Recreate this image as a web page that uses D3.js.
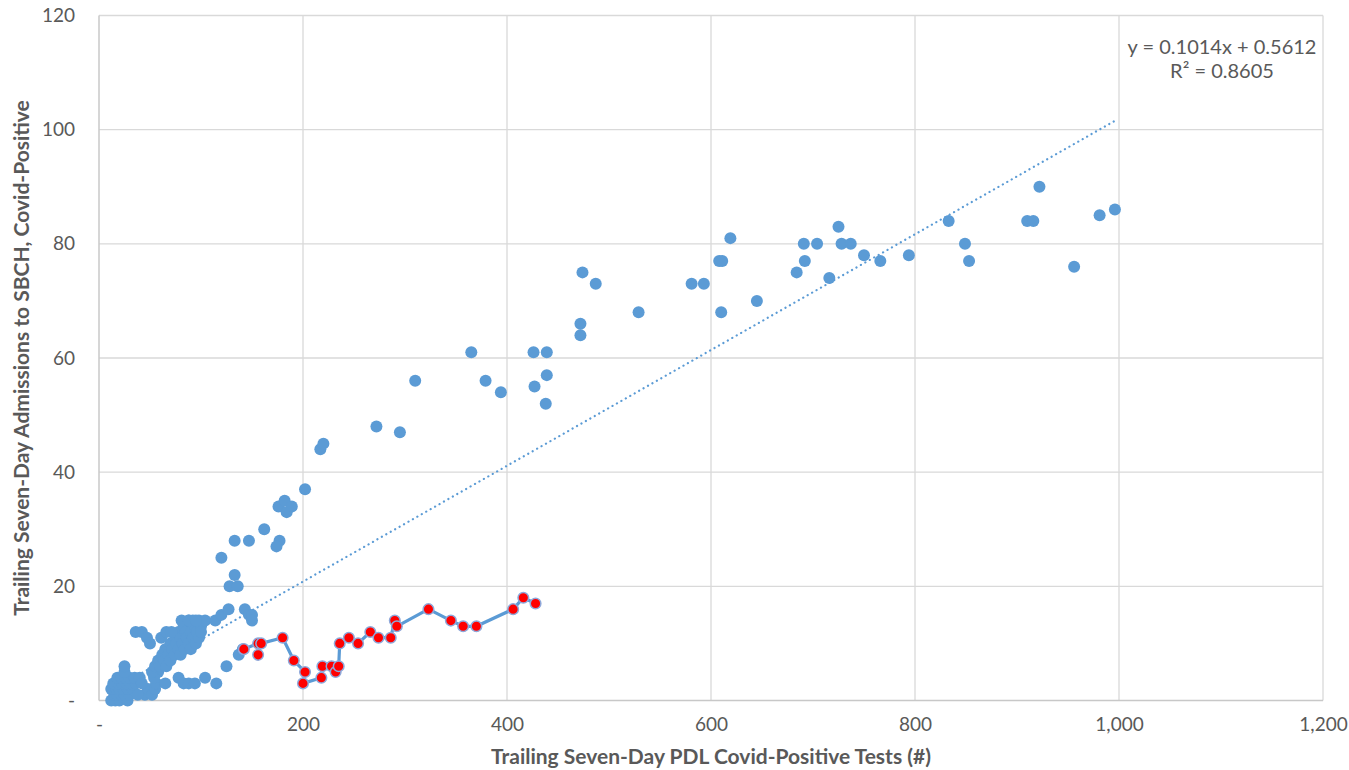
<!DOCTYPE html>
<html>
<head>
<meta charset="utf-8">
<script src="https://cdn.jsdelivr.net/npm/d3@7"></script>
<style>
  body { margin: 0; background: #fff; }
  text { font-family: "Lato", "Open Sans", sans-serif; fill: #595959; }
</style>
</head>
<body>
<div id="graph"></div>
<script>
//measurements
var width = 1349;
var height = 770;
var margin = { top: 15.5, right: 26, bottom: 69.5, left: 99 };
var chartWidth = width - margin.left - margin.right;
var chartHeight = height - margin.top - margin.bottom;

//tick values
var xTicks = [0, 200, 400, 600, 800, 1000, 1200];
var yTicks = [0, 20, 40, 60, 80, 100, 120];

//blue series: trailing tests (x) and admissions (y)
var blueX = [12, 16, 20, 28, 15, 18, 22, 25, 30, 12, 17, 20, 24, 28, 33, 14, 19, 23, 27, 31, 36, 18, 22, 26, 30, 35, 40, 25, 25, 45, 48, 52, 38, 42, 55, 56, 58, 54,
  52, 55, 58, 60, 62, 64, 65, 66, 68, 70, 70, 72, 74, 75, 76, 78, 78, 80, 80, 82, 83, 84, 85, 86, 88, 88, 90, 90, 92, 92, 94, 95, 96, 98, 98, 100, 104, 61, 66, 71, 81, 88, 95, 100,
  36, 42, 47, 50, 65, 78, 83, 88, 94, 104, 115, 125, 137, 141,
  114, 120, 127, 143, 147, 150, 150,
  120, 133, 128, 136, 133, 147, 177, 174, 162, 176, 182, 184, 189, 202, 217, 220,
  272, 295, 310, 365, 379, 394, 426, 427, 439, 439, 438, 472, 472, 474, 487, 529,
  581, 593, 608, 611, 610, 619, 645, 684, 691, 692, 704, 716, 725, 728, 737, 750, 766, 794,
  833, 849, 853, 910, 916, 922, 956, 981, 996];
var blueY = [0, 0, 0, 0, 1, 1, 1, 1, 1, 2, 2, 2, 2, 2, 2, 3, 3, 3, 3, 3, 3, 4, 4, 4, 4, 4, 4, 5, 6, 1, 2, 1, 1, 3, 2, 3, 5, 4,
  5, 6, 7, 6, 8, 7, 9, 6, 8, 7, 10, 9, 8, 11, 10, 9, 12, 8, 11, 10, 13, 9, 12, 11, 10, 14, 12, 9, 11, 14, 13, 10, 12, 14, 11, 13, 14, 11, 12, 12, 14, 14, 14, 12,
  12, 12, 11, 10, 3, 4, 3, 3, 3, 4, 3, 6, 8, 9,
  14, 15, 16, 16, 15, 15, 14,
  25, 22, 20, 20, 28, 28, 28, 27, 30, 34, 35, 33, 34, 37, 44, 45,
  48, 47, 56, 61, 56, 54, 61, 55, 61, 57, 52, 64, 66, 75, 73, 68,
  73, 73, 77, 77, 68, 81, 70, 75, 80, 77, 80, 74, 83, 80, 80, 78, 77, 78,
  84, 80, 77, 84, 84, 90, 76, 85, 86];

//red series, in the order the line joins them
var redX = [142, 156, 156, 159, 180, 191, 202, 200, 218, 219, 228, 232, 235, 236, 245, 254, 266, 274, 286, 290, 292, 323, 345, 357, 370, 406, 416, 428];
var redY = [9, 10, 8, 10, 11, 7, 5, 3, 4, 6, 6, 5, 6, 10, 11, 10, 12, 11, 11, 14, 13, 16, 14, 13, 13, 16, 18, 17];

//linear trendline of the blue series
var slope = 0.1014;
var intercept = 0.5612;
var trendText = ["y = 0.1014x + 0.5612", "R\u00b2 = 0.8605"];

var xLabel = "Trailing Seven-Day PDL Covid-Positive Tests (#)";
var yLabel = "Trailing Seven-Day Admissions to SBCH, Covid-Positive";

var blue = "#5B9BD5";

var chart = d3.select("#graph").append("svg")
    .attr("width", width)
    .attr("height", height);

var plot = chart.append("g")
    .attr("transform", "translate(" + margin.left + "," + margin.top + ")");

var xScale = d3.scaleLinear().domain([0, 1200]).range([0, chartWidth]);
var yScale = d3.scaleLinear().domain([0, 120]).range([chartHeight, 0]);

function fmt(d) {
    return d == 0 ? "-" : d3.format(",")(d);
}

// gridlines
plot.append("g").selectAll("line")
    .data(xTicks.slice(1))
    .enter().append("line")
    .attr("x1", function(d) { return xScale(d); })
    .attr("x2", function(d) { return xScale(d); })
    .attr("y1", 0)
    .attr("y2", chartHeight)
    .attr("stroke", "#D9D9D9")
    .attr("stroke-width", 1.3);

plot.append("g").selectAll("line")
    .data(yTicks.slice(1))
    .enter().append("line")
    .attr("x1", 0)
    .attr("x2", chartWidth)
    .attr("y1", function(d) { return yScale(d); })
    .attr("y2", function(d) { return yScale(d); })
    .attr("stroke", "#D9D9D9")
    .attr("stroke-width", 1.3);

// axis lines
plot.append("line")
    .attr("x1", 0).attr("x2", 0)
    .attr("y1", 0).attr("y2", chartHeight)
    .attr("stroke", "#C8C8C8").attr("stroke-width", 1.5);
plot.append("line")
    .attr("x1", 0).attr("x2", chartWidth)
    .attr("y1", chartHeight).attr("y2", chartHeight)
    .attr("stroke", "#C8C8C8").attr("stroke-width", 1.5);

// x axis (labels only)
var xAxis = d3.axisBottom(xScale).tickValues(xTicks).tickFormat(fmt).tickSize(0).tickPadding(17);
plot.append("g")
    .attr("class", "x axis")
    .attr("transform", "translate(0," + chartHeight + ")")
    .call(xAxis)
    .call(function(g) { g.select(".domain").remove(); })
    .selectAll("text")
    .style("font-size", "19px")
    .attr("fill", "#595959");

// y axis (labels only)
var yAxis = d3.axisLeft(yScale).tickValues(yTicks).tickFormat(fmt).tickSize(0).tickPadding(24);
plot.append("g")
    .attr("class", "y axis")
    .call(yAxis)
    .call(function(g) { g.select(".domain").remove(); })
    .selectAll("text")
    .style("font-size", "19px")
    .attr("fill", "#595959");

// trendline
var xr = d3.extent(blueX);
plot.append("line")
    .attr("x1", xScale(xr[0]))
    .attr("y1", yScale(slope * xr[0] + intercept))
    .attr("x2", xScale(xr[1]))
    .attr("y2", yScale(slope * xr[1] + intercept))
    .attr("stroke", blue)
    .attr("stroke-width", 2.2)
    .attr("stroke-linecap", "round")
    .attr("stroke-dasharray", "0.1 5");

// blue dots
plot.selectAll(".dot")
    .data(d3.range(blueX.length))
    .enter().append("circle")
    .attr("class", "dot")
    .attr("cx", function(i) { return xScale(blueX[i]); })
    .attr("cy", function(i) { return yScale(blueY[i]); })
    .attr("r", 6)
    .style("fill", blue);

// red series line + dots
var line = d3.line()
    .x(function(i) { return xScale(redX[i]); })
    .y(function(i) { return yScale(redY[i]); });
plot.append("path")
    .datum(d3.range(redX.length))
    .attr("fill", "none")
    .attr("stroke", blue)
    .attr("stroke-width", 3.2)
    .attr("stroke-linejoin", "round")
    .attr("d", line);

plot.selectAll(".red")
    .data(d3.range(redX.length))
    .enter().append("circle")
    .attr("class", "red")
    .attr("cx", function(i) { return xScale(redX[i]); })
    .attr("cy", function(i) { return yScale(redY[i]); })
    .attr("r", 5.3)
    .style("fill", "#FF0000")
    .style("stroke", "#8EA9DB")
    .style("stroke-width", 1.5);

// trendline label
chart.append("text")
    .attr("x", 1222)
    .attr("y", 54)
    .attr("text-anchor", "middle")
    .style("font-size", "20px")
    .text(trendText[0]);
chart.append("text")
    .attr("x", 1222)
    .attr("y", 78)
    .attr("text-anchor", "middle")
    .style("font-size", "20px")
    .text(trendText[1]);

// axis titles
chart.append("text")
    .attr("x", margin.left + xScale(600))
    .attr("y", 764)
    .attr("text-anchor", "middle")
    .style("font-size", "21px")
    .style("font-weight", "bold")
    .text(xLabel);

chart.append("text")
    .attr("text-anchor", "middle")
    .attr("transform", "translate(29," + (margin.top + yScale(60)) + ") rotate(-90)")
    .style("font-size", "21px")
    .style("font-weight", "bold")
    .text(yLabel);
</script>
</body>
</html>
